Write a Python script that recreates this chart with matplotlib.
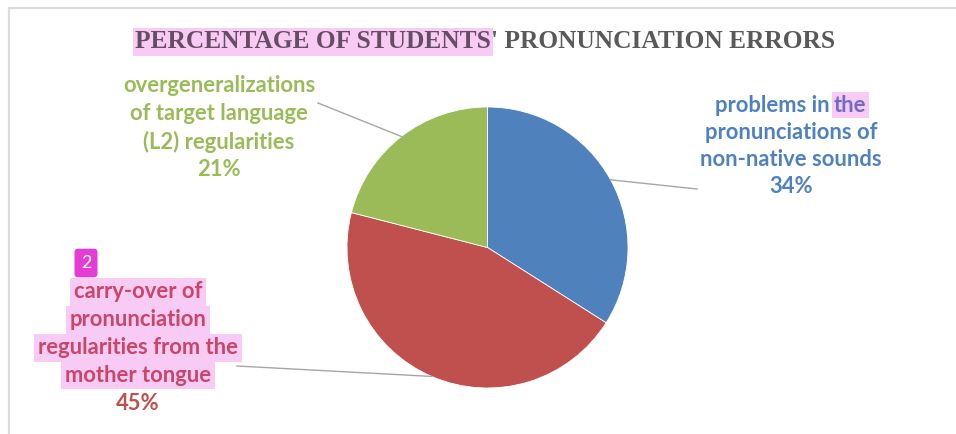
import matplotlib
matplotlib.use('Agg')
import matplotlib.pyplot as plt
import numpy as np

# data
values = [34, 45, 21]
colors = ['#4F81BD', '#C0504D', '#9BBB59']
# label lines, each line a list of (text, highlighted)
blue_lines = [[('problems in', False), ('the', True)],
              [('pronunciations of', False)],
              [('non-native sounds', False)]]
red_lines = [[('carry-over of', True)],
             [('pronunciation', True)],
             [('regularities from the', True)],
             [('mother tongue', True)]]
green_lines = [[('overgeneralizations', False)],
               [('of target language', False)],
               [('(L2) regularities', False)]]
title_segs = [('PERCENTAGE OF STUDENTS', True), ("' PRONUNCIATION ERRORS", False)]

HL = '#F8CBF4'
W, H = 956, 434

fig = plt.figure(figsize=(W/100, H/100), dpi=100)
ax = fig.add_axes([0, 0, 1, 1])
renderer = fig.canvas.get_renderer()


def draw_line(x, y, segs, col, hlcol, size, family, weight='bold', gap=0, pad=0.16):
    txts = []
    for s, hl in segs:
        t = ax.text(x, y, s, ha='left', va='center', fontsize=size,
                    family=family, fontweight=weight, color=hlcol if hl else col)
        if hl:
            t.set_bbox(dict(facecolor=HL, edgecolor='none', boxstyle='square,pad=%g' % pad))
        txts.append(t)
    widths = [t.get_window_extent(renderer).width for t in txts]
    cx = x - (sum(widths) + gap*(len(widths)-1))/2
    for t, w in zip(txts, widths):
        t.set_x(cx)
        cx += w + gap


# pie in pixel coordinates
cx, cy, r = 487.5, 186.5, 140.5
wedges, _ = ax.pie(values, colors=colors, startangle=90, counterclock=False,
                   center=(cx, cy), radius=r,
                   wedgeprops=dict(edgecolor='white', linewidth=0.6))
ax.set_xlim(0, W)
ax.set_ylim(0, H)
ax.set_aspect('auto')
ax.axis('off')

# leader lines: slice edge at mid angle -> label
ends = [(697, 245), (237, 68), (318, 331)]
for w, (ex, ey) in zip(wedges, ends):
    a = np.deg2rad((w.theta1 + w.theta2)/2)
    ax.plot([cx + r*np.cos(a), ex], [cy + r*np.sin(a), ey], color='#A6A6A6', lw=1)

fsz = 15.8
fam = 'Lato'
# blue label
y0 = 329
for i, ln in enumerate(blue_lines):
    draw_line(791, y0 - i*27.3, ln, '#4F81BD', '#6E6CC4', fsz, fam, gap=4, pad=0.1)
draw_line(791, y0 - 3*27.3, [('%d%%' % values[0], False)], '#4F81BD', '#4F81BD', fsz, fam)

# red label
y0 = 142
for i, ln in enumerate(red_lines):
    draw_line(138, y0 - i*27.8, ln, '#C0504D', '#C8466A', fsz, fam)
draw_line(138, y0 - 4*27.8, [('%d%%' % values[1], False)], '#C0504D', '#C0504D', fsz, fam)

# green label
y0 = 348
for i, ln in enumerate(green_lines):
    draw_line(219, y0 - i*28, ln, '#9BBB59', '#9BBB59', fsz, fam)
draw_line(219, y0 - 3*28, [('%d%%' % values[2], False)], '#9BBB59', '#9BBB59', fsz, fam)

# title
draw_line(485.5, 392, title_segs, '#595959', '#664D66', 18.3, 'Liberation Serif', pad=0.08)

# annotation badge
ax.text(86, 171, '2', ha='center', va='center', fontsize=13, family='Lato', color='white',
        bbox=dict(facecolor='#E33DD6', edgecolor='none', boxstyle='round,pad=0.35,rounding_size=0.2'))

# chart frame
ax.plot([9, 9], [-5, 426], color='#DCDCDC', lw=1.6, solid_capstyle='projecting')
ax.plot([9, 965], [426, 426], color='#DCDCDC', lw=1.6, solid_capstyle='projecting')

fig.savefig('out.png', dpi=100)
